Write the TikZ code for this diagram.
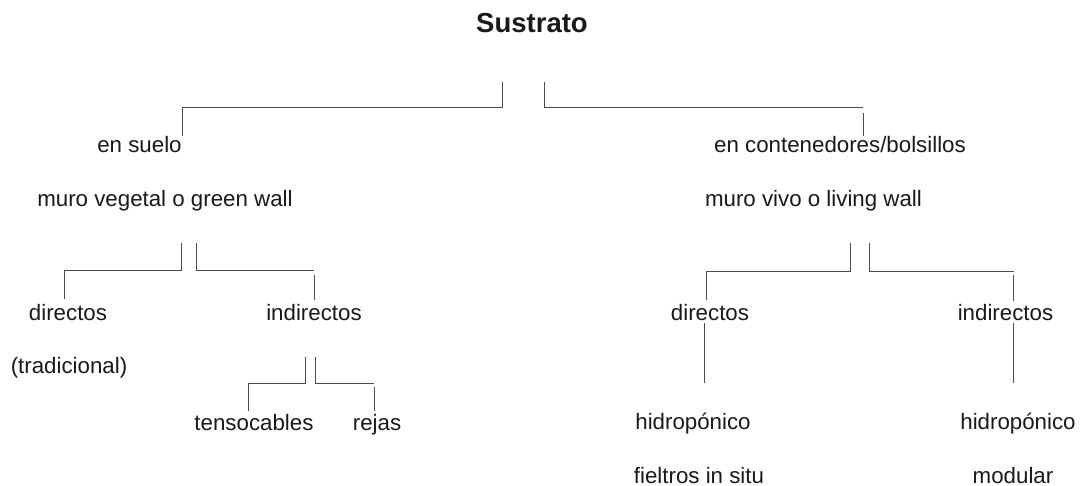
\documentclass[tikz,border=0pt]{standalone}
\usepackage{fontspec}
\setmainfont{Liberation Sans}
\usepackage{xcolor}
\usetikzlibrary{positioning, calc}

\begin{document}
\begin{tikzpicture}[x=1pt, y=-1pt, line width=1pt]

%styles
\tikzset{
  entry/.style={inner sep=0pt, anchor=base, text=black!90, font=\fontsize{22.3}{26}\selectfont},
  heading/.style={entry, font=\fontsize{27.5}{32}\selectfont\bfseries},
  branch/.style={draw=black!70}
}

\useasboundingbox (0,0) rectangle (1083,486);

%nodes
  \node[heading] (sustrato) at (532,33) {Sustrato};
  \node[entry] (suelo) at (139.5,153) {en suelo};
  \node[entry] (contenedores) at (840,153) {en contenedores/bolsillos};
  \node[entry] (vegetal) at (165,207) {muro vegetal o green wall};
  \node[entry] (vivo) at (813.5,207) {muro vivo o living wall};
  \node[entry] (dirL) at (68,320) {directos};
  \node[entry] (indL) at (314,320) {indirectos};
  \node[entry] (tradicional) at (69,373) {(tradicional)};
  \node[entry] (tenso) at (254,430) {tensocables};
  \node[entry] (rejas) at (377,430) {rejas};
  \node[entry] (dirR) at (710,320) {directos};
  \node[entry] (indR) at (1005.5,320) {indirectos};
  \node[entry] (hidroD) at (693,429) {hidropónico};
  \node[entry] (hidroI) at (1018,429) {hidropónico};
  \node[entry] (fieltros) at (699,483) {fieltros in situ};
  \node[entry] (modular) at (1013,483) {modular};

%bracket tops
  \coordinate (sus1) at (502,82);
  \coordinate (sus2) at (544,82);
  \coordinate (veg1) at (181.5,243);
  \coordinate (veg2) at (196.3,243);
  \coordinate (ind1) at (305.8,357);
  \coordinate (ind2) at (315,357);
  \coordinate (viv1) at (850,243);
  \coordinate (viv2) at (869.6,243);

%brackets
  \draw[branch] (sus1) -- ++(0,26) -| (suelo.north east);
  \draw[branch] (sus2) -- ++(0,26) -- ($(sus2 -| contenedores.north)+(23,26)$) ++(0,5) -- ([xshift=23pt]contenedores.north);
  \draw[branch] (veg1) -- ++(0,27) -| ([xshift=-3.6pt,yshift=4pt]dirL.north);
  \draw[branch] (veg2) -- ++(0,27) -- ($(veg2 -| indL.north)+(0,27)$) ++(0,5) -- ([yshift=3pt]indL.north);
  \draw[branch] (ind1) -- ++(0,26) -| ([xshift=-6pt,yshift=2pt]tenso.north);
  \draw[branch] (ind2) -- ++(0,26) -- ($(ind2 -| rejas.north)+(-2.7,26)$) ++(0,4) -- ([xshift=-2.7pt,yshift=2pt]rejas.north);
  \draw[branch] (viv1) -- ++(0,28) -| ([xshift=-4pt,yshift=3.7pt]dirR.north);
  \draw[branch] (viv2) -- ++(0,28) -- ($(viv2 -| indR.north)+(8.2,28)$) ++(0,4) -- ([xshift=8.2pt,yshift=2pt]indR.north);

%stems
  \draw[branch] ([xshift=-5.5pt,yshift=-3pt]dirR.base) -- ++(0,60);
  \draw[branch] ([xshift=8.2pt,yshift=-3pt]indR.base) -- ++(0,60);
\end{tikzpicture}
\end{document}
